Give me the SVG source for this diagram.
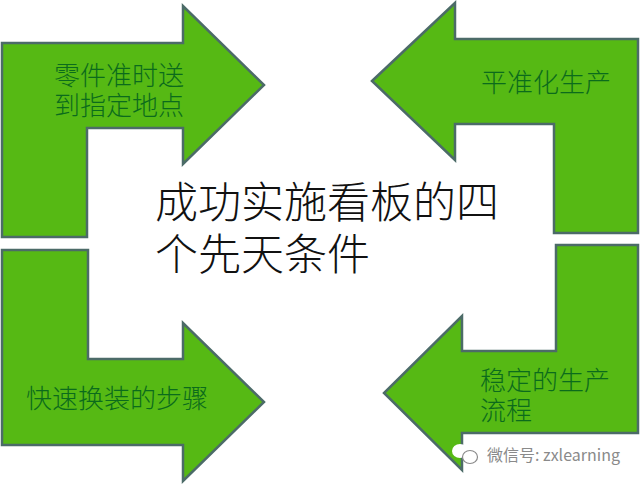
<svg xmlns="http://www.w3.org/2000/svg" width="640" height="485" viewBox="0 0 640 485">
<style>
text{font-family:"Noto Sans CJK SC","Liberation Sans",sans-serif}
.a{fill:#56b914;stroke:#4c6b68;stroke-width:2.5;stroke-linejoin:miter}
.l{font-size:26px;fill:#0b6b1c;font-weight:300}
.t{font-size:43px;fill:#111;font-weight:300}
.w{font-size:16px;fill:#8a8a8a;stroke:#fff;stroke-width:3px;paint-order:stroke}
.i{fill:#fff;stroke:#8a8a8a;stroke-width:1.2}
</style>
<rect width="640" height="485" fill="#fff"/>
<g id="arrow-top-left">
<polygon class="a" points="2,237 2,43 183,43 183,6 264,85 183,164 183,128 87,128 87,237"/>
<text class="l" x="54" y="85">零件准时送<tspan x="54" dy="30">到指定地点</tspan></text>
</g>
<g id="arrow-top-right">
<polygon class="a" points="372,81 455,3 455,39 638,39 638,233 554,233 554,124 455,124 455,160"/>
<text class="l" x="481" y="92">平准化生产</text>
</g>
<g id="arrow-bottom-left">
<polygon class="a" points="2,250 88,250 88,359 183,359 183,323 264,402 183,481 183,445 2,445"/>
<text class="l" x="26" y="408">快速换装的步骤</text>
</g>
<g id="arrow-bottom-right">
<polygon class="a" points="556,245 638,245 638,433 462,433 462,470 384,393 462,316 462,351 556,351"/>
<text class="l" x="480" y="390">稳定的生产<tspan x="480" dy="30">流程</tspan></text>
</g>
<g id="title">
<text class="t" x="155" y="218">成功实施看板的四<tspan x="155" dy="52">个先天条件</tspan></text>
</g>
<g id="watermark">
<ellipse cx="460" cy="451" rx="8" ry="7" fill="#fff"/>
<ellipse class="i" cx="470" cy="457" rx="7.5" ry="6.5"/>
<text class="w" x="487" y="461">微信号: zxlearning</text>
</g>
</svg>
